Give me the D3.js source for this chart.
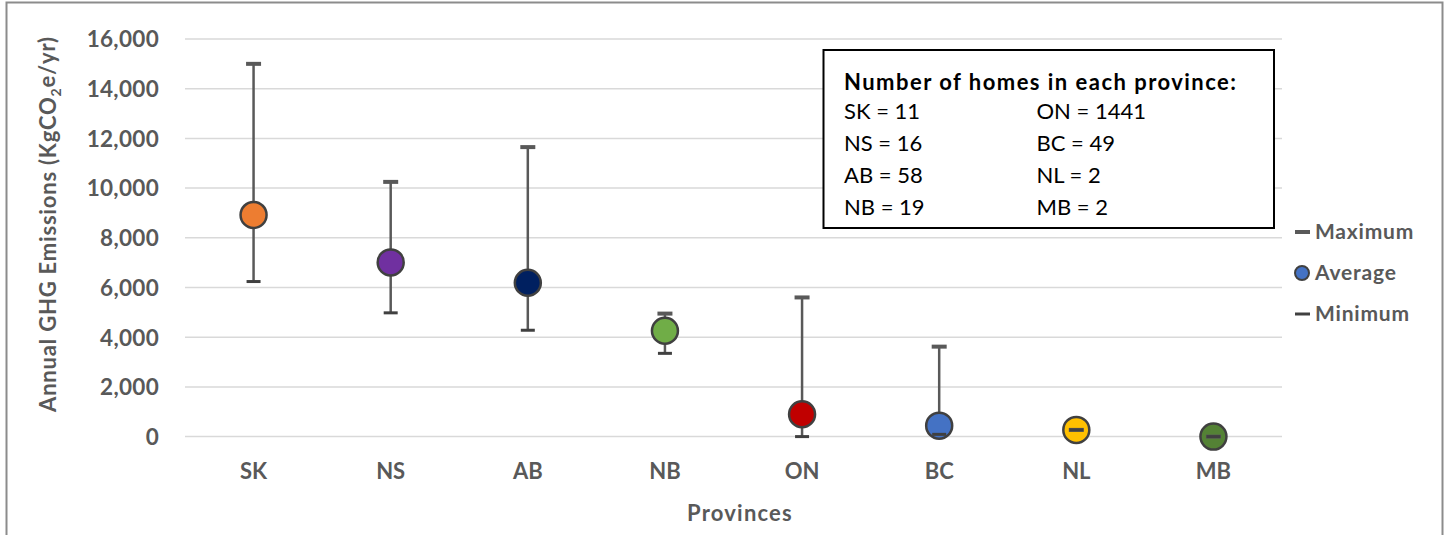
<!DOCTYPE html>
<html>
<head>
<meta charset="utf-8">
<script src="https://cdn.jsdelivr.net/npm/d3@7"></script>
<style>
  html, body { margin: 0; padding: 0; background: #fff; }
  svg { display: block; font-family: Lato, "Open Sans", sans-serif; }
</style>
</head>
<body>
<svg id="chart" width="1448" height="535"></svg>
<script>
// Annual GHG emissions per province: min / average / max
const provinces = ["SK", "NS", "AB", "NB", "ON", "BC", "NL", "MB"];
const maxVals   = [15000, 10250, 11650, 4950, 5600, 3620, 270, 0];
const avgVals   = [8920, 7010, 6190, 4260, 900, 440, 270, 0];
const minVals   = [6240, 4980, 4280, 3350, 0, 90, 270, 0];
const fills     = ["#ED7D31", "#7030A0", "#002060", "#70AD47", "#C00000", "#4472C4", "#FFC000", "#548235"];
const homeCounts = [11, 16, 58, 19, 1441, 49, 2, 2];
const yTicks    = [0, 2000, 4000, 6000, 8000, 10000, 12000, 14000, 16000];

const svg = d3.select("#chart");
const plot = { left: 185, right: 1282, top: 39, bottom: 436.6 };
const textGrey = "#595959";

// outer chart frame
svg.append("rect")
  .attr("x", 6.5).attr("y", 2.5)
  .attr("width", 1436).attr("height", 560)
  .attr("fill", "none").attr("stroke", "#8c8c8c").attr("stroke-width", 2);

const x = d3.scaleBand().domain(provinces).range([plot.left, plot.right]);
const y = d3.scaleLinear().domain([0, 16000]).range([plot.bottom, plot.top]);

// gridlines
svg.append("g")
  .selectAll("line").data(yTicks).join("line")
  .attr("x1", plot.left).attr("x2", plot.right)
  .attr("y1", d => y(d)).attr("y2", d => y(d))
  .attr("stroke", "#d9d9d9").attr("stroke-width", 1.5);

// y axis labels
const yAxis = d3.axisLeft(y).tickValues(yTicks).tickFormat(d3.format(",")).tickSize(0).tickPadding(0);
const yg = svg.append("g").attr("transform", "translate(159,0)").call(yAxis);
yg.select(".domain").remove();
yg.selectAll("text")
  .attr("fill", textGrey).attr("font-size", 22.5).attr("font-weight", 700)
  .attr("letter-spacing", 0.3)
  .attr("font-family", "Lato, sans-serif").attr("dy", "0.35em");

// x axis labels
const xAxis = d3.axisBottom(x).tickSize(0).tickPadding(0);
const xg = svg.append("g").attr("transform", "translate(0,471)").call(xAxis);
xg.select(".domain").remove();
xg.selectAll("text")
  .attr("fill", textGrey).attr("font-size", 22).attr("font-weight", 700)
  .attr("font-family", "Lato, sans-serif").attr("dy", "0.35em");

// axis titles
svg.append("text")
  .attr("x", 740).attr("y", 513.5).attr("dy", "0.35em")
  .attr("text-anchor", "middle")
  .attr("fill", textGrey).attr("font-size", 22).attr("font-weight", 700)
  .attr("letter-spacing", 1.2)
  .text("Provinces");

const yTitle = svg.append("text")
  .attr("transform", "translate(48,224) rotate(-90)")
  .attr("text-anchor", "middle").attr("dy", "0.35em")
  .attr("fill", textGrey).attr("font-size", 22).attr("font-weight", 700)
  .attr("letter-spacing", 0.8);
yTitle.append("tspan").text("Annual GHG Emissions (KgCO");
yTitle.append("tspan").attr("font-size", 14).attr("dy", "0.35em").text("2");
yTitle.append("tspan").attr("dy", "-0.25em").text("e/yr)");

// data rows
const rows = provinces.map((p, i) => ({
  p, max: maxVals[i], avg: avgVals[i], min: minVals[i], fill: fills[i]
}));
const cx = d => x(d.p) + x.bandwidth() / 2;

// range lines
svg.append("g").selectAll("line").data(rows).join("line")
  .attr("x1", cx).attr("x2", cx)
  .attr("y1", d => y(d.max)).attr("y2", d => y(d.min))
  .attr("stroke", textGrey).attr("stroke-width", 2.5);

// average markers
svg.append("g").selectAll("circle").data(rows).join("circle")
  .attr("cx", cx).attr("cy", d => y(d.avg)).attr("r", 13)
  .attr("fill", d => d.fill).attr("stroke", "#404040").attr("stroke-width", 2.5);

// maximum caps
svg.append("g").selectAll("line").data(rows).join("line")
  .attr("x1", d => cx(d) - 7.5).attr("x2", d => cx(d) + 7.5)
  .attr("y1", d => y(d.max)).attr("y2", d => y(d.max))
  .attr("stroke", textGrey).attr("stroke-width", 4);

// minimum caps
svg.append("g").selectAll("line").data(rows).join("line")
  .attr("x1", d => cx(d) - 7).attr("x2", d => cx(d) + 7)
  .attr("y1", d => y(d.min)).attr("y2", d => y(d.min))
  .attr("stroke", "#404040").attr("stroke-width", 3);

// legend
const legend = svg.append("g");
const legItems = ["Maximum", "Average", "Minimum"];
const legY = [232, 273, 314];
legItems.forEach((name, i) => {
  if (i === 1) {
    legend.append("circle").attr("cx", 1302).attr("cy", legY[i]).attr("r", 7)
      .attr("fill", "#4472C4").attr("stroke", "#404040").attr("stroke-width", 2);
  } else {
    legend.append("line").attr("x1", 1295).attr("x2", 1310)
      .attr("y1", legY[i]).attr("y2", legY[i])
      .attr("stroke", i === 0 ? textGrey : "#404040").attr("stroke-width", i === 0 ? 4 : 3);
  }
  legend.append("text").attr("x", 1315).attr("y", legY[i]).attr("dy", "0.35em")
    .attr("fill", textGrey).attr("font-size", 21).attr("font-weight", 700)
    .attr("letter-spacing", 0.8).text(name);
});

// sample-size box
const box = svg.append("g");
box.append("rect").attr("x", 823.5).attr("y", 50).attr("width", 450.5).attr("height", 178)
  .attr("fill", "#fff").attr("stroke", "#000").attr("stroke-width", 2);
box.append("text").attr("x", 844).attr("y", 82.7).attr("dy", "0.35em")
  .attr("fill", "#000").attr("font-size", 22).attr("font-weight", 700)
  .attr("textLength", 392).attr("lengthAdjust", "spacing")
  .text("Number of homes in each province:");
const rowY = [111.7, 143.5, 175, 207];
provinces.forEach((p, i) => {
  const col = Math.floor(i / 4), r = i % 4;
  box.append("text").attr("x", col === 0 ? 844 : 1036.5).attr("y", rowY[r]).attr("dy", "0.35em")
    .attr("fill", "#000").attr("font-size", 22)
    .text(`${p} = ${homeCounts[i]}`);
});
</script>
</body>
</html>
